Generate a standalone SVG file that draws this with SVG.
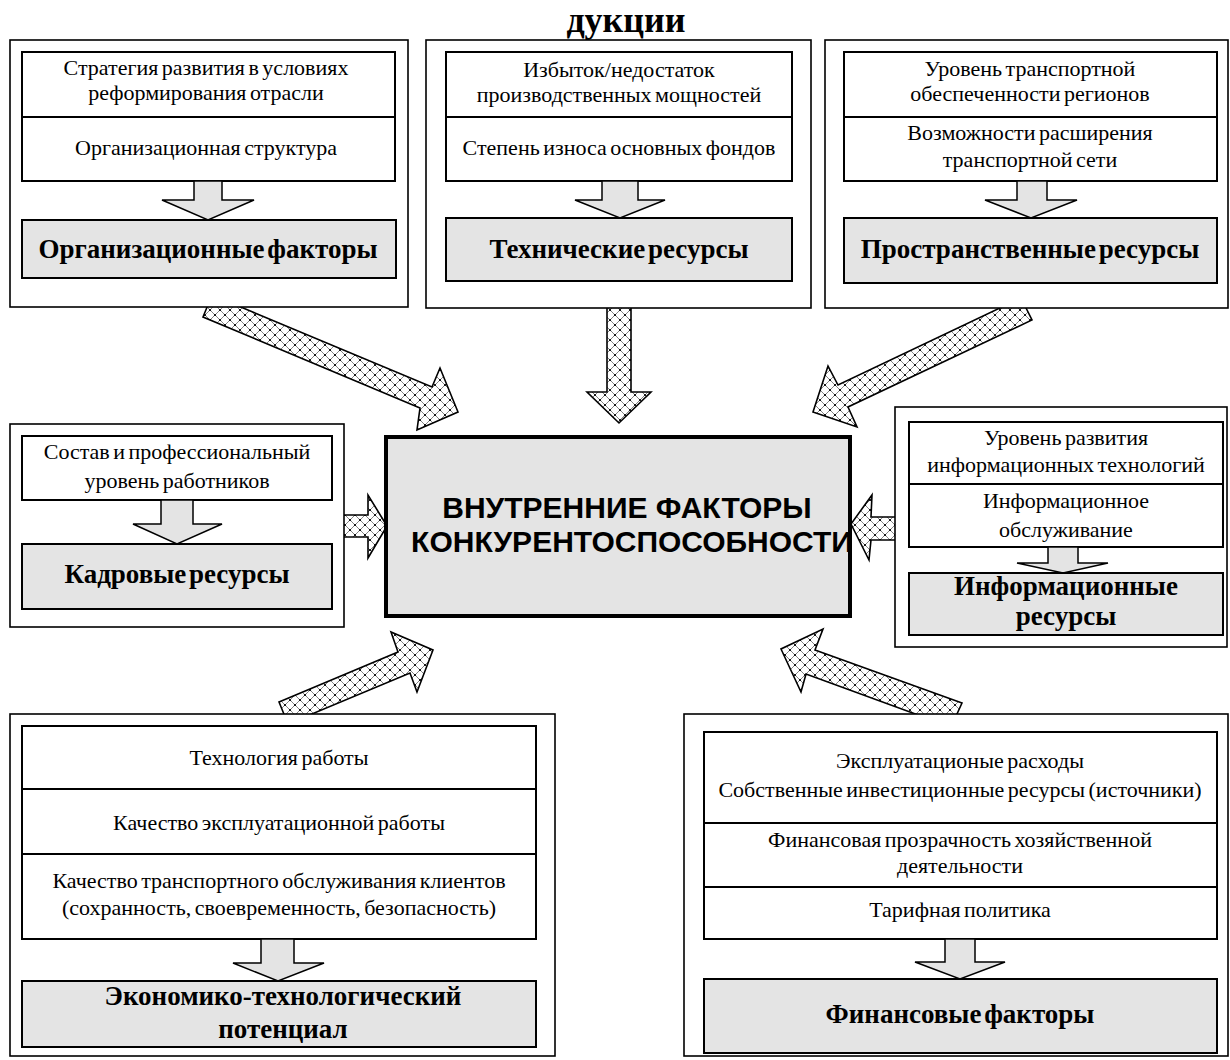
<svg xmlns="http://www.w3.org/2000/svg" width="1230" height="1060" viewBox="0 0 1230 1060">
<style>
.outer{fill:#fff;stroke:#000;stroke-width:1.6}
.inner{fill:#fff;stroke:#000;stroke-width:2}
.gray{fill:#e4e4e4;stroke:#000;stroke-width:2}
.line{stroke:#000;stroke-width:2}
.small{fill:#e4e4e4;stroke:#000;stroke-width:1.5}
.hatch{fill:url(#hp);stroke:#000;stroke-width:1.6;stroke-linejoin:miter}
.t{font-family:"Liberation Serif","Times New Roman",serif;font-size:22px;text-anchor:middle;fill:#000;word-spacing:-2px}
.b{font-family:"Liberation Serif","Times New Roman",serif;font-size:27px;font-weight:bold;text-anchor:middle;fill:#000;word-spacing:-4px}
.c{font-family:"Liberation Sans",Arial,sans-serif;font-size:30px;font-weight:bold;text-anchor:middle;fill:#000}
</style>
<defs>
<pattern id="hp" width="10" height="10" patternUnits="userSpaceOnUse">
<rect width="10" height="10" fill="#fff"/>
<path d="M0,0L10,10M10,0L0,10" stroke="#666" stroke-width="0.8"/>
<circle cx="5" cy="5" r="1.1" fill="#000"/>
<circle cx="0" cy="0" r="1.1" fill="#000"/>
<circle cx="10" cy="0" r="1.1" fill="#000"/>
<circle cx="0" cy="10" r="1.1" fill="#000"/>
<circle cx="10" cy="10" r="1.1" fill="#000"/>
</pattern>
</defs>
<rect width="1230" height="1060" fill="#fff"/>

<text x="626" y="32" font-family="'Liberation Serif','Times New Roman',serif" font-size="36" font-weight="bold" text-anchor="middle">дукции</text>

<g id="connectors">
<polygon class="hatch" points="212,295 432,387 440,368 458,412 417,430 420,408 203,317"/>
<polygon class="hatch" points="607,300 631,300 631,392 651,392 619,423 587,392 607,392"/>
<polygon class="hatch" points="1021,298 838,385 828,366 813,412 857,427 848,407 1032,320"/>
<polygon class="hatch" points="340,515 368,515 368,495 387,526 368,558 368,537 340,537"/>
<polygon class="hatch" points="900,517 871,517 872,495 851,524 869,560 871,540 900,540"/>
<polygon class="hatch" points="279,702 398,652 391,632 433,650 417,692 410,673 288,724"/>
<polygon class="hatch" points="962,703 815,650 823,629 781,649 801,692 806,674 951,727"/>
</g>

<g id="org">
<rect class="outer" x="10" y="40" width="398" height="267"/>
<rect class="inner" x="22" y="52" width="373" height="129"/>
<line class="line" x1="22" y1="117" x2="395" y2="117"/>
<polygon class="small" points="194,181 222,181 222,200 254,200 208,220 162,200 194,200"/>
<rect class="gray" x="22" y="220" width="374" height="58"/>
<text class="t" x="206" y="75">Стратегия развития в условиях</text>
<text class="t" x="206" y="100">реформирования отрасли</text>
<text class="t" x="206" y="155">Организационная структура</text>
<text class="b" x="208" y="258">Организационные факторы</text>
</g>

<g id="tech">
<rect class="outer" x="426" y="40" width="385" height="268"/>
<rect class="inner" x="446" y="52" width="346" height="129"/>
<line class="line" x1="446" y1="117" x2="792" y2="117"/>
<polygon class="small" points="602,181 638,181 638,200 665,200 620,218 575,200 602,200"/>
<rect class="gray" x="446" y="218" width="346" height="63"/>
<text class="t" x="619" y="77">Избыток/недостаток</text>
<text class="t" x="619" y="102">производственных мощностей</text>
<text class="t" x="619" y="155">Степень износа основных фондов</text>
<text class="b" x="619" y="258">Технические ресурсы</text>
</g>

<g id="space">
<rect class="outer" x="825" y="40" width="403" height="268"/>
<rect class="inner" x="844" y="52" width="373" height="129"/>
<line class="line" x1="844" y1="117" x2="1217" y2="117"/>
<polygon class="small" points="1017,181 1047,181 1047,200 1077,200 1031,218 985,200 1017,200"/>
<rect class="gray" x="844" y="218" width="373" height="65"/>
<text class="t" x="1030" y="76">Уровень транспортной</text>
<text class="t" x="1030" y="101">обеспеченности регионов</text>
<text class="t" x="1030" y="140">Возможности расширения</text>
<text class="t" x="1030" y="167">транспортной сети</text>
<text class="b" x="1030" y="258">Пространственные ресурсы</text>
</g>

<g id="staff">
<rect class="outer" x="10" y="424" width="334" height="203"/>
<rect class="inner" x="22" y="436" width="310" height="64"/>
<polygon class="small" points="161,500 193,500 193,524 222,524 177,544 133,524 161,524"/>
<rect class="gray" x="22" y="544" width="310" height="65"/>
<text class="t" x="177" y="459">Состав и профессиональный</text>
<text class="t" x="177" y="488">уровень работников</text>
<text class="b" x="177" y="583">Кадровые ресурсы</text>
</g>

<g id="center">
<rect x="386" y="437" width="464" height="179" fill="#e4e4e4" stroke="#000" stroke-width="4"/>
<text class="c" x="627" y="518">ВНУТРЕННИЕ ФАКТОРЫ</text>
<text class="c" x="632" y="552">КОНКУРЕНТОСПОСОБНОСТИ</text>
</g>

<g id="info">
<rect class="outer" x="895" y="407" width="332" height="240"/>
<rect class="inner" x="909" y="422" width="314" height="125"/>
<line class="line" x1="909" y1="484" x2="1223" y2="484"/>
<polygon class="small" points="1048,547 1078,547 1078,563 1108,563 1063,573 1017,563 1048,563"/>
<rect class="gray" x="909" y="573" width="314" height="62"/>
<text class="t" x="1066" y="445">Уровень развития</text>
<text class="t" x="1066" y="472">информационных технологий</text>
<text class="t" x="1066" y="508">Информационное</text>
<text class="t" x="1066" y="537">обслуживание</text>
<text class="b" x="1066" y="595">Информационные</text>
<text class="b" x="1066" y="625">ресурсы</text>
</g>

<g id="econ">
<rect class="outer" x="10" y="714" width="545" height="342"/>
<rect class="inner" x="22" y="726" width="514" height="213"/>
<line class="line" x1="22" y1="789" x2="536" y2="789"/>
<line class="line" x1="22" y1="854" x2="536" y2="854"/>
<polygon class="small" points="261,939 294,939 294,963 324,963 278,981 233,963 261,963"/>
<rect class="gray" x="22" y="981" width="514" height="66"/>
<text class="t" x="279" y="765">Технология работы</text>
<text class="t" x="279" y="830">Качество эксплуатационной работы</text>
<text class="t" x="279" y="888">Качество транспортного обслуживания клиентов</text>
<text class="t" x="279" y="915">(сохранность, своевременность, безопасность)</text>
<text class="b" x="283" y="1005">Экономико-технологический</text>
<text class="b" x="283" y="1038">потенциал</text>
</g>

<g id="fin">
<rect class="outer" x="684" y="714" width="544" height="342"/>
<rect class="inner" x="704" y="732" width="513" height="207"/>
<line class="line" x1="704" y1="823" x2="1217" y2="823"/>
<line class="line" x1="704" y1="887" x2="1217" y2="887"/>
<polygon class="small" points="945,939 975,939 975,962 1005,962 960,979 915,962 945,962"/>
<rect class="gray" x="704" y="979" width="513" height="74"/>
<text class="t" x="960" y="768">Эксплуатационые расходы</text>
<text class="t" x="960" y="797">Собственные инвестиционные ресурсы (источники)</text>
<text class="t" x="960" y="847">Финансовая прозрачность хозяйственной</text>
<text class="t" x="960" y="873">деятельности</text>
<text class="t" x="960" y="917">Тарифная политика</text>
<text class="b" x="960" y="1023">Финансовые факторы</text>
</g>
</svg>
